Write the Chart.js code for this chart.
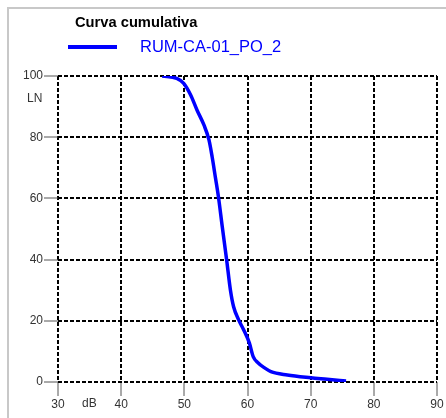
<!DOCTYPE html>
<html><head><meta charset="utf-8">
<script src="https://cdn.jsdelivr.net/npm/chart.js@4/dist/chart.umd.min.js"></script>
<style>
html,body{margin:0;padding:0;background:#fff;overflow:hidden;}
#wrap{position:relative;width:446px;height:418px;font-family:"Liberation Sans",Arial,sans-serif;}
#frame{position:absolute;left:7px;top:7px;width:460px;height:430px;border-left:2px solid #c8c8c8;border-top:2px solid #c8c8c8;}
canvas{position:absolute;left:0;top:0;}
.t{position:absolute;white-space:nowrap;line-height:1;}
</style></head>
<body><div id="wrap">
<div id="frame"></div>
<canvas id="c" width="446" height="418"></canvas>
<div class="t" id="title" style="left:75px;top:15px;font-weight:bold;font-size:14.7px;color:#000;">Curva cumulativa</div>
<div style="position:absolute;left:68px;top:45px;width:49px;height:4px;background:#0000ff;"></div>
<div class="t" id="leg" style="left:140px;top:38px;font-size:16.5px;color:#0000ff;">RUM-CA-01_PO_2</div>
<div class="t" style="left:82px;top:397px;font-size:12px;color:#333;">dB</div>
<div class="t" style="left:27px;top:92px;font-size:12px;color:#333;">LN</div>
</div>
<script>
const seriesName = "RUM-CA-01_PO_2";
const levelsDb = [46.5,48.8,49.9,51.0,52.0,53.1,53.9,54.4,54.9,55.4,56.0,56.7,57.3,57.8,58.6,59.4,60.3,60.9,61.7,62.7,63.7,66.3,70.0,72.6,75.6];
const cumulativeLN = [100,99.2,97.6,93.8,88.9,84,79.1,73.6,67.1,60.5,50.8,39.9,30,24.6,20.3,17,12.7,8.3,6.2,4.6,3.4,2.3,1.4,0.9,0.3];
const xTicks = [30,40,50,60,70,80,90];
const yTicks = [0,20,40,60,80,100];

const pts = levelsDb.map((x,i)=>({x:x,y:cumulativeLN[i]}));
const gridCommon = {color:'#000',lineWidth:2,tickColor:'#555',tickWidth:1,tickBorderDash:[],tickLength:14};
new Chart(document.getElementById('c'),{
  type:'line',
  data:{datasets:[{label:seriesName,data:pts,borderColor:'#0000ff',backgroundColor:'#0000ff',borderWidth:3.5,pointRadius:0,cubicInterpolationMode:'monotone',fill:false}]},
  options:{
    responsive:false,animation:false,
    layout:{padding:{top:76,right:9,left:0,bottom:0}},
    plugins:{legend:{display:false},title:{display:false},tooltip:{enabled:false}},
    scales:{
      x:{type:'linear',min:30,max:90,
        afterBuildTicks:s=>{s.ticks=xTicks.map(v=>({value:v}));},
        afterFit:s=>{s.height=36;},
        grid:gridCommon,
        border:{display:false,dash:[4,2]},
        ticks:{color:'#333',font:{family:'"Liberation Sans", Arial',size:12},padding:1,maxRotation:0}},
      y:{type:'linear',min:0,max:100,
        afterBuildTicks:s=>{s.ticks=yTicks.map(v=>({value:v}));},
        afterFit:s=>{s.width=58;},
        grid:gridCommon,
        border:{display:false,dash:[4,2]},
        ticks:{color:'#333',font:{family:'"Liberation Sans", Arial',size:12},padding:1}}
    }
  }
});
</script>
</body></html>
